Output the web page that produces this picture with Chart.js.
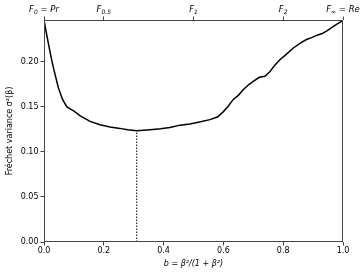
<!DOCTYPE html>
<html>
<head>
<meta charset="utf-8">
<script src="https://cdn.jsdelivr.net/npm/chart.js@4"></script>
<style>
html,body{margin:0;padding:0;background:#fff;}
#wrap{width:364px;height:276px;position:relative;}
</style>
</head>
<body>
<div id="wrap"><canvas id="chart"></canvas></div>
<script>

// curve: b = beta^2/(1+beta^2) against Frechet variance
const bValues = [0.000,0.010,0.023,0.033,0.048,0.062,0.076,0.090,0.098,0.120,0.154,0.187,0.221,0.254,0.280,0.310,0.355,0.390,0.421,0.455,0.488,0.520,0.555,0.580,0.600,0.616,0.633,0.650,0.667,0.685,0.700,0.720,0.739,0.756,0.772,0.789,0.812,0.834,0.856,0.878,0.895,0.912,0.930,0.945,0.968,0.985,1.000];
const varianceValues = [0.246,0.228,0.206,0.191,0.171,0.158,0.150,0.147,0.1456,0.140,0.1337,0.130,0.1274,0.1259,0.1245,0.1233,0.1244,0.1255,0.127,0.1295,0.1307,0.1330,0.1356,0.1385,0.1445,0.1505,0.158,0.1625,0.169,0.1745,0.178,0.1825,0.1837,0.189,0.196,0.202,0.2085,0.215,0.220,0.2244,0.2265,0.2289,0.231,0.2337,0.239,0.2425,0.2455];

// minimum marker
const minB = 0.31;
const minVariance = 0.1233;

// ticks
const xTicks = [0,0.2,0.4,0.6,0.8,1.0];
const yTicks = [0,0.05,0.10,0.15,0.20];
const topTickValues = [0,0.2,0.5,0.8,1.0];
const topTickSubs = ['0','0.5','1','2','\u221e'];
const topTickRests = ['Pr','','','','Re'];

const axisColor = '#444';
const tickFont = {family:'DejaVu Sans', size:8};

// frame round the plot area
const framePlugin = {
id:'frame',
afterDatasetsDraw(chart){
const a = chart.chartArea, c = chart.ctx;
c.save();
c.strokeStyle = axisColor;
c.lineWidth = 1;
c.strokeRect(a.left+0.5,a.top+0.5,a.right-a.left-1,a.bottom-a.top-1);
c.restore();
}
};

// top labels F_sub = Rest
const topLabelPlugin = {
id:'topLabels',
afterDraw(chart){
const s = chart.scales.xTop, c = chart.ctx;
c.save();
c.fillStyle = '#000';
c.textBaseline = 'alphabetic';
const base = 12;
topTickValues.forEach((v,i)=>{
const parts = [
{t:'F', f:'italic 8.5px DejaVu Sans', dy:0},
{t:topTickSubs[i], f:'italic 6px DejaVu Sans', dy:2},
];
if(topTickRests[i]){
parts.push({t:' = ', f:'8.5px DejaVu Sans', dy:0});
parts.push({t:topTickRests[i], f:'italic 8.5px DejaVu Sans', dy:0});
}
let w = 0;
parts.forEach(p=>{c.font=p.f; p.w=c.measureText(p.t).width; w+=p.w;});
let x = s.getPixelForValue(v) - w/2;
parts.forEach(p=>{c.font=p.f; c.fillText(p.t,x,base+p.dy); x+=p.w;});
});
c.restore();
}
};

const ctx = document.getElementById('chart').getContext('2d');

const chart = new Chart(ctx,{
type:'scatter',
data:{
datasets:[{
data:bValues.map((b,i)=>({x:b,y:varianceValues[i]})),
showLine:true,
borderColor:'#000',
borderWidth:1.5,
pointRadius:0,
tension:0
},{
data:[{x:minB,y:0},{x:minB,y:minVariance}],
showLine:true,
borderColor:'#000',
borderWidth:1,
borderDash:[1.5,1.5],
pointRadius:0
}]
},
options:{
responsive:true,
maintainAspectRatio:false,
animation:false,
layout:{padding:{left:0,right:21,top:0,bottom:0}},
plugins:{legend:{display:false},tooltip:{enabled:false}},
scales:{
x:{
type:'linear',position:'bottom',min:0,max:1,
afterBuildTicks:s=>{s.ticks = xTicks.map(v=>({value:v}));},
afterFit:s=>{s.height = 34;},
ticks:{color:'#000',font:tickFont,padding:1,maxRotation:0,callback:v=>v.toFixed(1)},
grid:{drawOnChartArea:false,drawTicks:true,tickLength:3.5,color:axisColor},
border:{display:false},
title:{display:true,text:'b = \u03b2\u00b2/(1 + \u03b2\u00b2)',color:'#000',font:{family:'DejaVu Sans',size:8,style:'italic'},padding:{top:1,bottom:7}}
},
xTop:{
type:'linear',position:'top',min:0,max:1,
afterBuildTicks:s=>{s.ticks = topTickValues.map(v=>({value:v}));},
afterFit:s=>{s.height = 20;},
ticks:{display:false},
grid:{drawOnChartArea:false,drawTicks:true,tickLength:3.5,color:axisColor},
border:{display:false}
},
y:{
type:'linear',min:0,max:0.246,
afterBuildTicks:s=>{s.ticks = yTicks.map(v=>({value:v}));},
afterFit:s=>{s.width = 44;},
ticks:{color:'#000',font:tickFont,padding:2,callback:v=>v.toFixed(2)},
grid:{drawOnChartArea:false,drawTicks:true,tickLength:3.5,color:axisColor},
border:{display:false},
title:{display:true,text:'Fr\u00e9chet variance \u03c3\u00b2(\u03b2)',color:'#000',font:{family:'DejaVu Sans',size:8},padding:{top:5,bottom:0}}
}
}
},
plugins:[framePlugin,topLabelPlugin]
});

</script>
</body>
</html>
